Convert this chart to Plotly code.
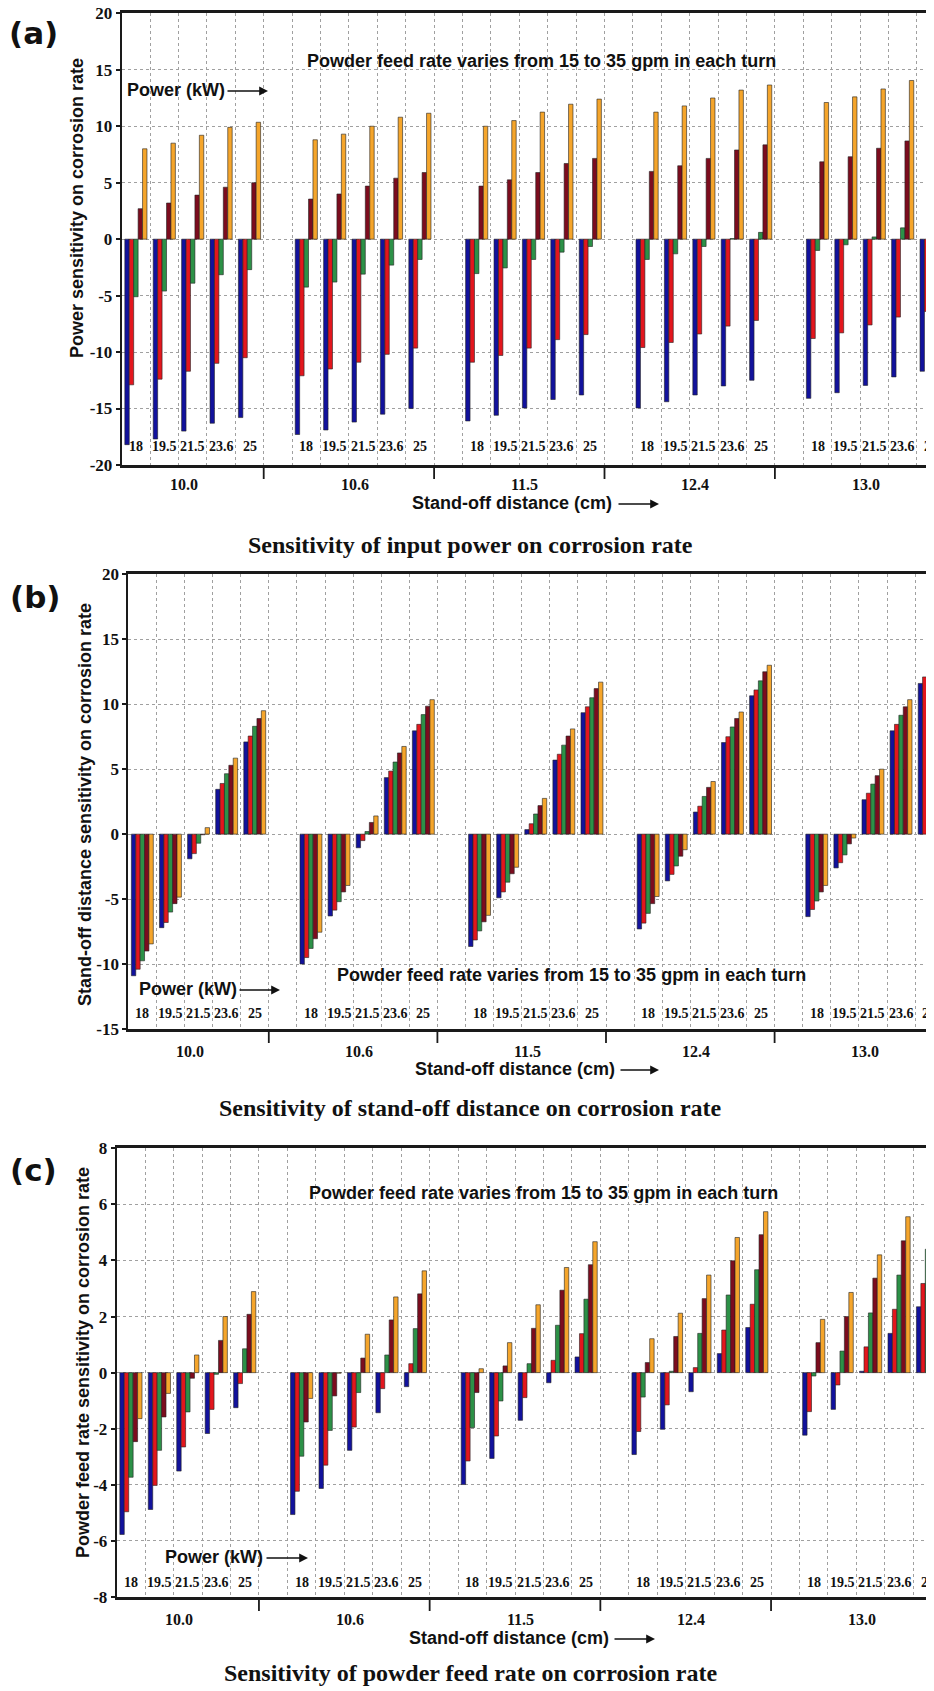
import plotly.graph_objects as go

# ---------------- data ----------------
standoff = ["10.0", "10.6", "11.5", "12.4", "13.0"]
power = ["18", "19.5", "21.5", "23.6", "25"]
feed = ["15 gpm", "20 gpm", "25 gpm", "30 gpm", "35 gpm"]
colors = ["#12129c", "#e3161d", "#2c9147", "#7c0c1e", "#f5a52b"]

# (a) power sensitivity; order: stand-off groups, each with 5 power levels
a_f15 = [-18.2, -17.7, -17.0, -16.3, -15.8, -17.3, -16.9, -16.2, -15.5, -15.0,
         -16.1, -15.6, -14.95, -14.2, -13.8, -14.95, -14.4, -13.8, -13.0, -12.5,
         -14.1, -13.6, -12.95, -12.2, -11.7]
a_f20 = [-12.9, -12.4, -11.7, -11.0, -10.5, -12.1, -11.5, -10.9, -10.2, -9.65,
         -10.9, -10.3, -9.65, -8.9, -8.45, -9.6, -9.15, -8.4, -7.7, -7.2,
         -8.8, -8.3, -7.6, -6.9, -6.4]
a_f25 = [-5.1, -4.6, -3.9, -3.15, -2.7, -4.25, -3.8, -3.1, -2.3, -1.8,
         -3.05, -2.55, -1.8, -1.15, -0.65, -1.8, -1.3, -0.65, 0.05, 0.6,
         -1.0, -0.5, 0.2, 1.0, 1.4]
a_f30 = [2.7, 3.2, 3.9, 4.6, 5.0, 3.55, 4.0, 4.7, 5.4, 5.9,
         4.7, 5.25, 5.9, 6.7, 7.15, 6.0, 6.5, 7.15, 7.9, 8.35,
         6.85, 7.3, 8.05, 8.7, 9.2]
a_f35 = [8.0, 8.5, 9.2, 9.9, 10.35, 8.8, 9.3, 10.0, 10.8, 11.15,
         10.0, 10.5, 11.25, 11.95, 12.4, 11.25, 11.8, 12.5, 13.2, 13.65,
         12.1, 12.6, 13.3, 14.05, 14.5]

# (b) stand-off distance sensitivity
b_f15 = [-10.9, -7.2, -1.9, 3.45, 7.1, -10.0, -6.3, -1.05, 4.35, 7.95,
         -8.65, -4.9, 0.35, 5.7, 9.35, -7.3, -3.6, 1.7, 7.05, 10.65,
         -6.35, -2.6, 2.65, 7.95, 11.6]
b_f20 = [-10.4, -6.8, -1.5, 3.9, 7.55, -9.5, -5.85, -0.5, 4.85, 8.45,
         -8.15, -4.45, 0.8, 6.15, 9.8, -6.85, -3.1, 2.15, 7.5, 11.1,
         -5.8, -2.2, 3.15, 8.45, 12.1]
b_f25 = [-9.75, -6.0, -0.7, 4.65, 8.3, -8.8, -5.2, 0.2, 5.55, 9.2,
         -7.45, -3.7, 1.55, 6.85, 10.5, -6.1, -2.45, 2.9, 8.25, 11.8,
         -5.15, -1.6, 3.85, 9.15, 12.8]
b_f30 = [-9.0, -5.35, -0.05, 5.3, 8.9, -8.05, -4.45, 0.9, 6.25, 9.85,
         -6.75, -3.05, 2.2, 7.55, 11.2, -5.35, -1.7, 3.6, 8.9, 12.5,
         -4.45, -0.75, 4.5, 9.8, 13.4]
b_f35 = [-8.45, -4.85, 0.5, 5.85, 9.5, -7.55, -3.95, 1.4, 6.75, 10.35,
         -6.25, -2.55, 2.75, 8.1, 11.7, -4.8, -1.2, 4.05, 9.4, 13.0,
         -3.95, -0.3, 5.0, 10.35, 13.9]

# (c) powder feed rate sensitivity
c_f15 = [-5.77, -4.88, -3.51, -2.17, -1.25, -5.06, -4.13, -2.77, -1.43, -0.5,
         -3.99, -3.06, -1.7, -0.36, 0.56, -2.92, -2.02, -0.68, 0.68, 1.61,
         -2.23, -1.31, 0.05, 1.4, 2.35]
c_f20 = [-4.96, -4.02, -2.65, -1.31, -0.39, -4.23, -3.3, -1.94, -0.57, 0.32,
         -3.15, -2.26, -0.89, 0.44, 1.39, -2.1, -1.15, 0.18, 1.52, 2.44,
         -1.39, -0.44, 0.92, 2.26, 3.18]
c_f25 = [-3.73, -2.77, -1.4, -0.06, 0.85, -2.98, -2.06, -0.71, 0.63, 1.57,
         -1.96, -1.01, 0.32, 1.69, 2.62, -0.87, 0.05, 1.4, 2.77, 3.67,
         -0.12, 0.77, 2.13, 3.48, 4.4]
c_f30 = [-2.46, -1.58, -0.2, 1.15, 2.08, -1.76, -0.83, 0.52, 1.88, 2.81,
         -0.71, 0.24, 1.58, 2.94, 3.85, 0.36, 1.29, 2.64, 3.99, 4.92,
         1.07, 2.0, 3.37, 4.7, 5.65]
c_f35 = [-1.64, -0.74, 0.63, 2.0, 2.89, -0.92, -0.02, 1.37, 2.7, 3.63,
         0.14, 1.07, 2.42, 3.75, 4.67, 1.21, 2.12, 3.48, 4.82, 5.74,
         1.9, 2.86, 4.2, 5.56, 6.45]

a_ticks = [20, 15, 10, 5, 0, -5, -10, -15, -20]
b_ticks = [20, 15, 10, 5, 0, -5, -10, -15]
c_ticks = [8, 6, 4, 2, 0, -2, -4, -6, -8]

# page geometry: the html body adds an 8px margin, so the figure is made
# 8px smaller and every page position is shifted by that offset
PAGE_W, PAGE_H, OFF = 934, 1691, 8
W, H = PAGE_W - OFF, PAGE_H - OFF
def PX(x): return (x - OFF) / W
def PY(y): return 1 - (y - OFF) / H

# slot position of each (stand-off, power) cluster on a numeric axis
xpos = [6 * g + p + 1.5 for g in range(len(standoff)) for p in range(len(power))]

panels = [
    dict(series=[a_f15, a_f20, a_f25, a_f30, a_f35], ticks=a_ticks, yr=[-20, 20],
         left=121.7, top=13.3, bottom=465, ppu=28.4, sfx="",
         label="(a)", lab_xy=(33, 33),
         ytitle="Power sensitivity on corrosion rate", yt_xy=(77, 208),
         note_xy=(541, 61), pw_xy=(125, 90), pw_arrow=(226, 268),
         plab_y=447, glab_y=484, so_xy=(410, 503), so_arrow=(617, 659),
         title="Sensitivity of input power on corrosion rate", title_y=545),
    dict(series=[b_f15, b_f20, b_f25, b_f30, b_f35], ticks=b_ticks, yr=[-15, 20],
         left=128.3, top=574.3, bottom=1029, ppu=28.1, sfx="2",
         label="(b)", lab_xy=(35, 597),
         ytitle="Stand-off distance sensitivity on corrosion rate", yt_xy=(85, 805),
         note_xy=(571, 975), pw_xy=(137, 989), pw_arrow=(238, 280),
         plab_y=1013, glab_y=1051, so_xy=(413, 1069), so_arrow=(619, 659),
         title="Sensitivity of stand-off distance on corrosion rate", title_y=1108),
    dict(series=[c_f15, c_f20, c_f25, c_f30, c_f35], ticks=c_ticks, yr=[-8, 8],
         left=116.7, top=1148.3, bottom=1597, ppu=28.45, sfx="3",
         label="(c)", lab_xy=(33, 1170),
         ytitle="Powder feed rate sensitivity on corrosion rate", yt_xy=(83, 1363),
         note_xy=(543, 1193), pw_xy=(163, 1557), pw_arrow=(265, 308),
         plab_y=1582, glab_y=1619, so_xy=(407, 1638), so_arrow=(613, 655),
         title="Sensitivity of powder feed rate on corrosion rate", title_y=1673),
]

SANS = "Liberation Sans"
SERIF = "Liberation Serif"
INK = "#111111"

fig = go.Figure()
annotations = []
shapes = []
layout = dict(width=W, height=H, margin=dict(l=0, r=0, t=0, b=0),
              paper_bgcolor="white", plot_bgcolor="white", showlegend=False,
              barmode="group", bargap=0.22, bargroupgap=0.0)

for pn in panels:
    s = pn["sfx"]
    xa, ya = "x" + s, "y" + s
    for name, col, vals in zip(feed, colors, pn["series"]):
        fig.add_trace(go.Bar(x=xpos, y=vals, name=name, marker_color=col,
                             marker_line=dict(color="#222222", width=0.6),
                             xaxis=xa, yaxis=ya))
    xmax = 1 + (PAGE_W - pn["left"]) / pn["ppu"]
    layout["xaxis" + s] = dict(
        domain=[PX(pn["left"]), 1], anchor=ya, range=[1, xmax],
        tick0=0, dtick=1, showticklabels=False, ticks="",
        showgrid=True, gridcolor="#a0a0a0", griddash="dot", gridwidth=1,
        showline=True, linecolor="#1a1a1a", linewidth=2.5, mirror=True,
        zeroline=False, automargin=False, fixedrange=True)
    layout["yaxis" + s] = dict(
        domain=[PY(pn["bottom"]), PY(pn["top"])], anchor=xa, range=pn["yr"],
        tickvals=pn["ticks"], ticktext=[str(t) for t in pn["ticks"]],
        ticks="outside", ticklen=4, tickwidth=1.5, tickcolor="#1a1a1a",
        tickfont=dict(family=SERIF, size=17, color=INK, weight="bold"),
        ticklabeloverflow="allow",
        showgrid=True, gridcolor="#a0a0a0", griddash="dot", gridwidth=1,
        showline=True, linecolor="#1a1a1a", linewidth=2, mirror=False,
        zeroline=False, automargin=False, fixedrange=True)

    # panel label
    annotations.append(dict(text=pn["label"], xref="paper", yref="paper",
                            x=PX(pn["lab_xy"][0]), y=PY(pn["lab_xy"][1]),
                            showarrow=False, xanchor="center", yanchor="middle",
                            font=dict(family="DejaVu Sans", size=31, color=INK, weight="bold")))
    # y title
    annotations.append(dict(text=pn["ytitle"], xref="paper", yref="paper",
                            x=PX(pn["yt_xy"][0]), y=PY(pn["yt_xy"][1]), textangle=-90,
                            showarrow=False, xanchor="center", yanchor="middle",
                            font=dict(family=SANS, size=18, color=INK, weight="bold")))
    # feed-rate note
    annotations.append(dict(text="Powder feed rate varies from 15 to 35 gpm in each turn",
                            xref="paper", yref="paper",
                            x=PX(pn["note_xy"][0]), y=PY(pn["note_xy"][1]),
                            showarrow=False, xanchor="center", yanchor="middle",
                            font=dict(family=SANS, size=18, color=INK, weight="bold")))
    # Power (kW) ->
    annotations.append(dict(text="Power (kW)", xref="paper", yref="paper",
                            x=PX(pn["pw_xy"][0]), y=PY(pn["pw_xy"][1]),
                            showarrow=False, xanchor="left", yanchor="middle",
                            font=dict(family=SANS, size=18, color=INK, weight="bold")))
    a0, a1 = pn["pw_arrow"]
    annotations.append(dict(text="", xref="paper", yref="paper",
                            x=PX(a1), y=PY(pn["pw_xy"][1] + 1), ax=-(a1 - a0), ay=0,
                            showarrow=True, arrowhead=2, arrowsize=1.1, arrowwidth=1.6,
                            arrowcolor=INK, standoff=0, startstandoff=0))
    # power labels under clusters
    for x, lab in zip(xpos, power * len(standoff)):
        annotations.append(dict(text=lab, xref=xa, yref="paper", x=x, y=PY(pn["plab_y"]),
                                showarrow=False, xanchor="center", yanchor="middle",
                                font=dict(family=SERIF, size=14, color=INK, weight="bold")))
    # stand-off group labels and separators
    for g, lab in enumerate(standoff):
        annotations.append(dict(text=lab, xref=xa, yref="paper", x=6 * g + 3.2,
                                y=PY(pn["glab_y"]), showarrow=False,
                                xanchor="center", yanchor="middle",
                                font=dict(family=SERIF, size=16, color=INK, weight="bold")))
        if g > 0:
            shapes.append(dict(type="line", xref=xa, yref="paper", x0=6 * g, x1=6 * g,
                               y0=PY(pn["bottom"]), y1=PY(pn["bottom"] + 14),
                               line=dict(color="#1a1a1a", width=1.8)))
    # Stand-off distance (cm) ->
    annotations.append(dict(text="Stand-off distance (cm)", xref="paper", yref="paper",
                            x=PX(pn["so_xy"][0]), y=PY(pn["so_xy"][1]),
                            showarrow=False, xanchor="left", yanchor="middle",
                            font=dict(family=SANS, size=18, color=INK, weight="bold")))
    s0, s1 = pn["so_arrow"]
    annotations.append(dict(text="", xref="paper", yref="paper",
                            x=PX(s1), y=PY(pn["so_xy"][1] + 1), ax=-(s1 - s0), ay=0,
                            showarrow=True, arrowhead=2, arrowsize=1.1, arrowwidth=1.6,
                            arrowcolor=INK, standoff=0, startstandoff=0))
    # caption
    annotations.append(dict(text=pn["title"], xref="paper", yref="paper",
                            x=PX(470), y=PY(pn["title_y"]), showarrow=False,
                            xanchor="center", yanchor="middle",
                            font=dict(family=SERIF, size=24, color=INK, weight="bold")))

layout["annotations"] = annotations
layout["shapes"] = shapes
fig.update_layout(**layout)
fig.write_html("out.html")
